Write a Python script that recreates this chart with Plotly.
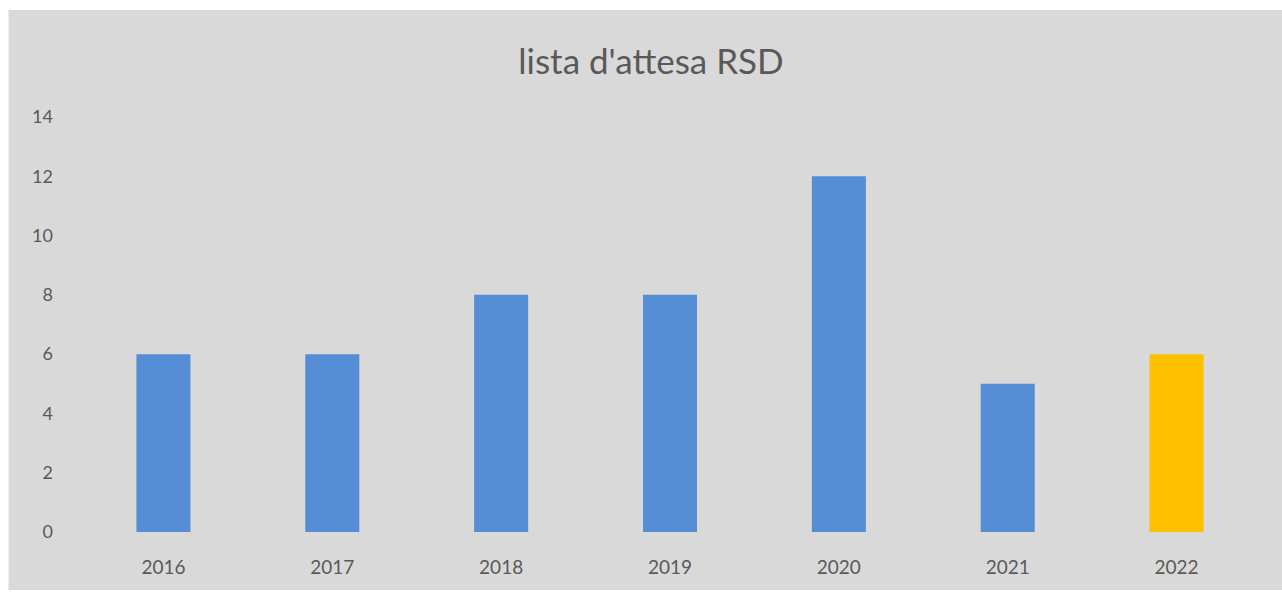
import plotly.graph_objects as go

# Waiting-list counts per year
years = ["2016", "2017", "2018", "2019", "2020", "2021", "2022"]
counts = [6, 6, 8, 8, 12, 5, 6]
bar_colors = ["#558ED5", "#558ED5", "#558ED5", "#558ED5", "#558ED5", "#558ED5", "#FFC000"]
y_ticks = [0, 2, 4, 6, 8, 10, 12, 14]

W, H = 1282, 593
ml, mr, mt, mb = 78.5, 20.5, 117, 61
pw, ph = W - ml - mr, H - mt - mb

fig = go.Figure(go.Bar(x=years, y=counts, marker=dict(color=bar_colors, line=dict(width=0))))

# Grey chart area with a thin white frame on the top, left and bottom
fig.add_shape(
    type="rect", xref="paper", yref="paper", layer="below",
    x0=(8 - ml) / pw, x1=(W + 5 - ml) / pw,
    y0=(H - mb - 590) / ph, y1=(H - mb - 10) / ph,
    fillcolor="#D9D9D9", line=dict(width=0),
)

fig.update_layout(
    width=W, height=H,
    margin=dict(l=ml, r=mr, t=mt, b=mb),
    paper_bgcolor="white", plot_bgcolor="rgba(0,0,0,0)",
    bargap=0.68,
    showlegend=False,
    font=dict(family="Lato, sans-serif", color="#595959"),
    title=dict(text="lista d'attesa RSD", x=651 / W, xanchor="center",
               y=1 - 62 / H, yanchor="middle",
               font=dict(size=35, color="#595959")),
)
fig.update_xaxes(showgrid=False, zeroline=False, showline=False, ticks="",
                 tickfont=dict(size=19, color="#595959"), ticklabelstandoff=22)
fig.update_yaxes(range=[0, 14], tickvals=y_ticks, showgrid=False, zeroline=False,
                 showline=False, ticks="", tickfont=dict(size=18, color="#595959"),
                 ticklabelstandoff=25)

fig.write_html("out.html")
